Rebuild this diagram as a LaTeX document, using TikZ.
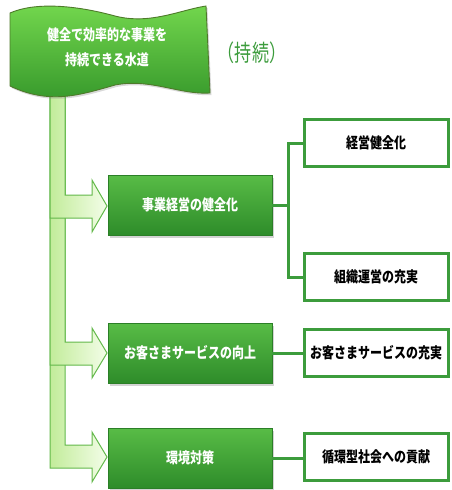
\documentclass[tikz,border=0pt]{standalone}
\usepackage{fontspec}
\newfontfamily\jp{Noto Sans CJK JP}
\usetikzlibrary{shadows,calc}
\definecolor{lineg}{HTML}{3C9C3C}
\definecolor{boxtop}{HTML}{58BC46}
\definecolor{boxbot}{HTML}{2E8C2A}
\definecolor{boxedge}{HTML}{2B7F27}
\definecolor{arrowedge}{HTML}{62B84A}
\definecolor{arrowl}{HTML}{C2EC9A}
\definecolor{arrowr}{HTML}{F3FDE8}
\definecolor{flagtop}{HTML}{74D84E}
\definecolor{flagbot}{HTML}{34962A}
\definecolor{flagedge}{HTML}{4E7A2A}
\newcommand{\cjkt}[1]{\scalebox{0.8}[1]{#1}}
\begin{document}
\begin{tikzpicture}[x=1pt,y=-1pt,
  jpfont/.style={font=\jp\bfseries\fontsize{15}{15}\selectfont},
  mainbox/.style={draw=boxedge, line width=0.8pt, top color=boxtop, bottom color=boxbot,
    minimum width=164pt, minimum height=60pt, inner sep=0pt, text=white, jpfont,
    drop shadow={opacity=0.35, shadow xshift=1.5pt, shadow yshift=-2.5pt}},
  subbox/.style={draw=lineg, line width=3pt, fill=white, minimum width=144pt,
    minimum height=47pt, inner sep=0pt, text=black, jpfont},
  flagtext/.style={text=white, inner sep=0pt, jpfont},
  conn/.style={draw=lineg, line width=3pt, line join=miter},
  barrow/.style={draw=arrowedge, line width=1pt, left color=arrowl, right color=arrowr, line join=miter},
  flagshape/.style={draw=flagedge, line width=0.9pt, top color=flagtop, bottom color=flagbot,
    drop shadow={opacity=0.3, shadow xshift=1.5pt, shadow yshift=-2pt}}
]
\useasboundingbox (0,0) rectangle (452,490);

% bent arrows (pole), drawn from the lowest to the highest
\path[barrow] (50,92) -- (50,468) -- (92,468) -- (92,482) -- (107,457) -- (92,432) -- (92,445) -- (65,445) -- (65,92) -- cycle;
\path[barrow] (50,92) -- (50,365) -- (92,365) -- (92,378) -- (107,353) -- (92,328) -- (92,342) -- (65,342) -- (65,92) -- cycle;
\path[barrow] (50,92) -- (50,218) -- (92,218) -- (92,232) -- (107,206) -- (92,180) -- (92,195) -- (65,195) -- (65,92) -- cycle;

% flag
\path[flagshape] (10,13) .. controls (35,2) and (75,5) .. (115,16)
  .. controls (150,25) and (180,10) .. (206,6) -- (210,93)
  .. controls (180,95) and (150,78) .. (115,85)
  .. controls (80,95) and (50,105) .. (10,86) -- cycle;
\node[flagtext] (ft1) at (107,35) {\cjkt{健全で効率的な事業を}};
\node[flagtext] (ft2) at (107,60) {\cjkt{持続できる水道}};

\node[text=lineg, inner sep=0pt, font=\jp\fontsize{23}{23}\selectfont] (jizoku) at (252,53) {\scalebox{0.74}[1]{（持続）}};

% main boxes
\node[mainbox] (M1) at (190,205) {\cjkt{事業経営の健全化}};
\node[mainbox] (M2) at (190,353) {\cjkt{お客さまサービスの向上}};
\node[mainbox] (M3) at (190,458) {\cjkt{環境対策}};

% sub boxes
\node[subbox] (R1) at (376,143) {\cjkt{経営健全化}};
\node[subbox] (R2) at (376,277) {\cjkt{組織運営の充実}};
\node[subbox] (R3) at (376,352.5) {\cjkt{お客さまサービスの充実}};
\node[subbox] (R4) at (376,457) {\cjkt{循環型社会への貢献}};

% connectors
\coordinate (J1) at (288,205);
\draw[conn] (M1.east) -- (J1);
\draw[conn] (R1.west) -| (J1) |- (R2.west);
\draw[conn] (M2.east) -- (M2.east -| R3.west);
\draw[conn] (M3.east) -- (M3.east -| R4.west);
\end{tikzpicture}
\end{document}
